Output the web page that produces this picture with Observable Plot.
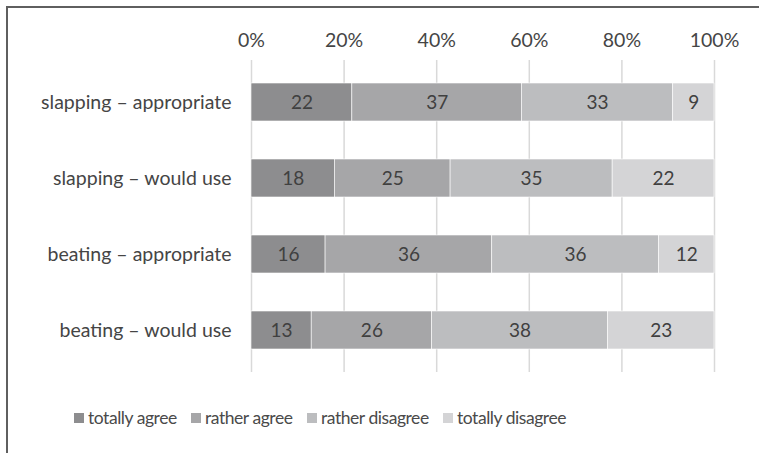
<!DOCTYPE html>
<html>
<head>
<meta charset="utf-8">
<script src="https://cdn.jsdelivr.net/npm/d3@7"></script>
<script src="https://cdn.jsdelivr.net/npm/@observablehq/plot@0.6"></script>
<style>
  html, body { margin: 0; padding: 0; background: #fff; }
  body { width: 759px; height: 453px; position: relative; overflow: hidden; font-family: Lato, "Open Sans", sans-serif; }
  #frame { position: absolute; left: 6px; top: 6px; width: 760px; height: 460px; border-left: 2px solid #5f5f5f; border-top: 2px solid #5f5f5f; box-sizing: border-box; pointer-events: none; }
  #chart { position: absolute; left: 0; top: 0; }
  #legend { position: absolute; left: 0; top: 407px; width: 759px; height: 26px; font-size: 17.5px; letter-spacing: -0.45px; color: #4a4a4a; }
  .item { position: absolute; top: 0; display: flex; align-items: center; white-space: nowrap; }
  .sw { width: 10px; height: 10px; margin-right: 4px; }
</style>
</head>
<body>
<div id="chart"></div>
<div id="legend"></div>
<div id="frame"></div>
<script>
const categories = ["slapping – appropriate", "slapping – would use", "beating – appropriate", "beating – would use"];
const series = ["totally agree", "rather agree", "rather disagree", "totally disagree"];
const totallyAgree = [22, 18, 16, 13];
const ratherAgree = [37, 25, 36, 26];
const ratherDisagree = [33, 35, 36, 38];
const totallyDisagree = [9, 22, 12, 23];
const tickValues = [0, 0.2, 0.4, 0.6, 0.8, 1];
const colors = ["#8d8d8f", "#a6a6a8", "#bcbdbf", "#d4d4d6"];
const legendLeft = [74, 191, 307, 443];

const seriesValues = [totallyAgree, ratherAgree, ratherDisagree, totallyDisagree];
const data = [];
categories.forEach((c, i) => {
  series.forEach((s, j) => {
    data.push({category: c, series: s, value: seriesValues[j][i]});
  });
});

const stackOpts = {x: "value", y: "category", z: "series", offset: "normalize", order: series};

const chart = Plot.plot({
  width: 759,
  height: 390,
  marginLeft: 251,
  marginRight: 45,
  marginTop: 60,
  marginBottom: 18,
  style: {fontFamily: "Lato, 'Open Sans', sans-serif", fontSize: "19.5px", color: "#454545", background: "transparent"},
  x: {domain: [0, 1], axis: "top", ticks: tickValues, tickFormat: d => Math.round(d * 100) + "%", tickSize: 0, tickPadding: 14, label: null, grid: false},
  y: {domain: categories, paddingInner: 0.506, paddingOuter: 0.279, tickSize: 0, tickPadding: 20, label: null},
  color: {domain: series, range: colors},
  marks: [
    Plot.ruleX(tickValues, {stroke: "#d9d9d9", strokeWidth: 1.5}),
    Plot.barX(data, Plot.stackX({...stackOpts, fill: "series", inset: 0, stroke: "#ffffff", strokeWidth: 0.6})),
    Plot.textX(data, Plot.stackX({...stackOpts, text: "value", fill: "#404040", fontSize: 19}))
  ]
});
document.getElementById("chart").appendChild(chart);

const legend = document.getElementById("legend");
series.forEach((s, j) => {
  const it = document.createElement("div");
  it.className = "item";
  it.style.left = legendLeft[j] + "px";
  const sw = document.createElement("div");
  sw.className = "sw";
  sw.style.background = colors[j];
  const t = document.createElement("span");
  t.textContent = s;
  it.appendChild(sw);
  it.appendChild(t);
  legend.appendChild(it);
});
</script>
</body>
</html>
